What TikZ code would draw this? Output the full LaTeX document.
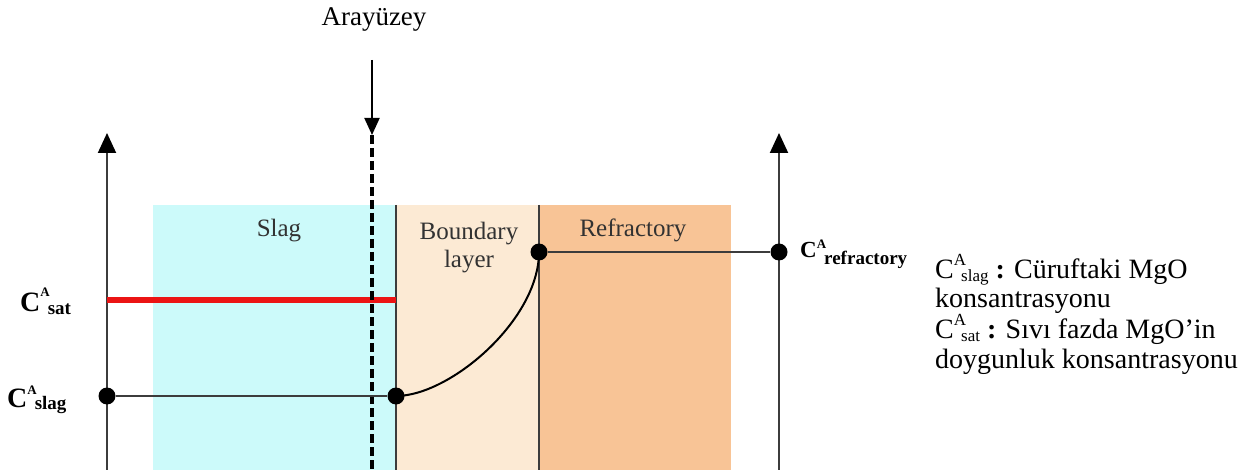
\documentclass[tikz,border=0pt]{standalone}
\usepackage{fontspec}
\setmainfont{Liberation Serif}
\usetikzlibrary{arrows.meta}
\definecolor{slagc}{RGB}{204,250,250}
\definecolor{bndc}{RGB}{252,234,212}
\definecolor{refc}{RGB}{248,196,150}
\definecolor{axisc}{RGB}{60,60,60}
\definecolor{labc}{RGB}{50,50,50}
\definecolor{redc}{RGB}{235,20,20}
\newcommand\sz[2]{\fontsize{#1}{#2}\selectfont}
\newcommand\legsup[2]{\raisebox{13pt}{\sz{17}{17}#1}\kern-5pt\raisebox{-3pt}{\sz{17}{17}#2}}
\newcommand\axlab[6]{\textbf{C}\raisebox{#4}{\sz{#3}{#3}\bfseries #1}\kern-2pt\raisebox{#6}{\sz{#5}{#5}\bfseries #2}}
\begin{document}
\begin{tikzpicture}[x=1pt,y=-1pt,
  axisline/.style={draw=axisc, line width=2pt},
  axisarrow/.style={axisline, -{Triangle[width=18pt,length=20pt,color=black]}},
  dot/.style={circle, fill=black, inner sep=0pt, minimum size=17pt},
  regionlab/.style={text=labc, font=\sz{25}{28}, inner sep=0pt},
  leglab/.style={font=\sz{28}{29.3}, inner sep=0pt, align=left}]
\useasboundingbox (0,0) rectangle (1247,470);
% regions
\fill[slagc] (153,205) rectangle (396,470);
\fill[bndc] (396,205) rectangle (539,470);
\fill[refc] (539,205) rectangle (731,470);
% axes
\coordinate (lb) at (107,470);
\coordinate (lt) at (107,133);
\coordinate (rb) at (779,470);
\coordinate (rt) at (779,133);
\draw[axisarrow] (lb) -- (lt);
\draw[axisarrow] (rb) -- (rt);
% region borders
\coordinate (b1t) at (396,205);
\coordinate (b1b) at (396,470);
\coordinate (b2t) at (539,205);
\coordinate (b2b) at (539,470);
\draw[axisline] (b1t) -- (b1b);
\draw[axisline] (b2t) -- (b2b);
% saturation line
\coordinate (rs) at (107,300);
\coordinate (re) at (396,300);
\draw[draw=redc, line width=6pt] (rs) -- (re);
% interface
\coordinate (dt) at (372,135);
\coordinate (db) at (372,470);
\draw[line width=4pt, dash pattern=on 9pt off 4pt] (dt) -- (db);
\node[font=\sz{27}{30}, inner sep=0pt, anchor=base] (ar) at (374,26) {Arayüzey};
\coordinate (as) at (372,60);
\draw[line width=2pt, -{Triangle[width=15pt,length=17pt]}] (as) -- (dt);
% dots
\node[dot] (d1) at (107,396) {};
\node[dot] (d2) at (396,396) {};
\node[dot] (d3) at (539,252) {};
\node[dot] (d4) at (779,252) {};
\draw[axisline] (d1) -- (d2);
\draw[line width=2pt] (d2.center) .. controls (450,396) and (539,320) .. (d3.center);
\draw[axisline] (d3) -- (d4);
% region labels
\node[regionlab, anchor=base] (slag) at (279,237) {Slag};
\node[regionlab, anchor=base, align=center] (bl) at (469,268) {Boundary\\layer};
\node[regionlab, anchor=base] (ref) at (633,237) {Refractory};
% axis labels
\node[anchor=base west, inner sep=0pt, font=\sz{28}{28}] (csat) at (20,312) {\axlab{A}{sat}{13}{15pt}{19}{-2pt}};
\node[anchor=base west, inner sep=0pt, font=\sz{28}{28}] (cslag) at (7,407) {\axlab{A}{slag}{13}{13pt}{19}{-2pt}};
\node[anchor=base west, inner sep=0pt, font=\sz{23}{23}] (cref) at (800,258) {\axlab{A}{refractory}{13}{9pt}{19}{-7pt}};
% legend
\node[leglab, anchor=base west] (leg) at (935,368) {C\legsup{A}{slag} \textbf{:} Cüruftaki MgO\\konsantrasyonu\\C\legsup{A}{sat} \textbf{:} Sıvı fazda MgO’in\\doygunluk konsantrasyonu};
\end{tikzpicture}
\end{document}
